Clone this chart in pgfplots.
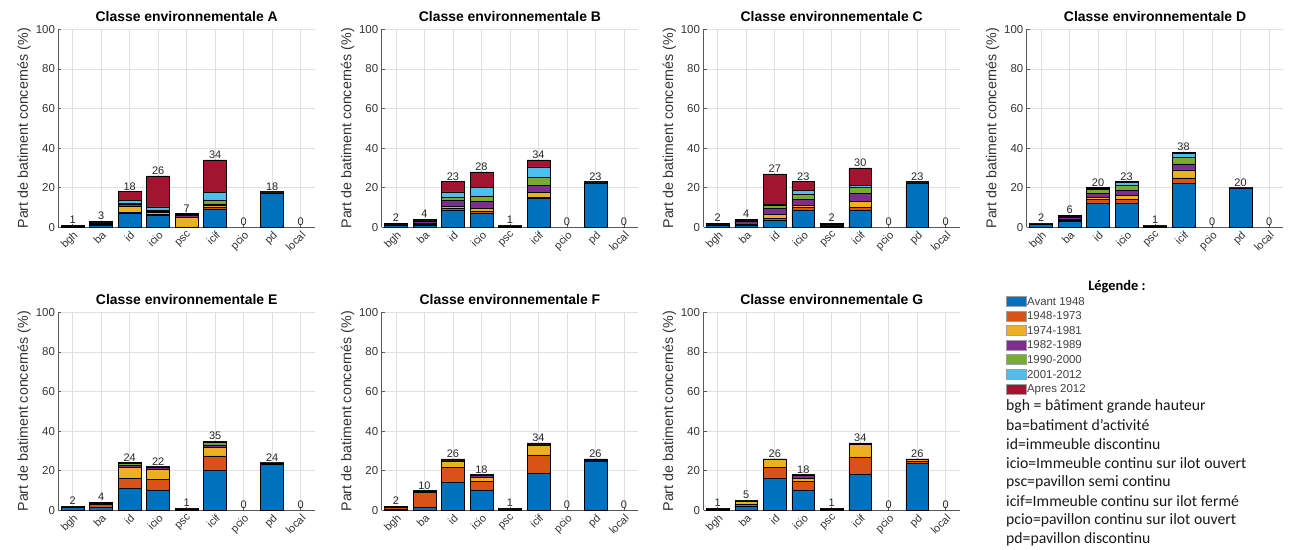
\documentclass[border=0pt]{standalone}
\usepackage{fontspec}
\setmainfont{Liberation Sans}
\newfontfamily\calib{Carlito}
\usepackage{pgfplots}
\usepackage{pgfplotstable}
\pgfplotsset{compat=1.18}
\definecolor{c1}{rgb}{0,0.447,0.741}
\definecolor{c2}{rgb}{0.85,0.325,0.098}
\definecolor{c3}{rgb}{0.929,0.694,0.125}
\definecolor{c4}{rgb}{0.494,0.184,0.556}
\definecolor{c5}{rgb}{0.466,0.674,0.188}
\definecolor{c6}{rgb}{0.301,0.745,0.933}
\definecolor{c7}{rgb}{0.635,0.078,0.184}

\pgfplotstableread{
x b1 b2 b3 b4 b5 b6 b7 tot
1 0.4 0.1 0.1 0.1 0.1 0.1 0.1 1
2 1.0 0.3 0.3 0.3 0.3 0.2 0.6 3
3 7 0.7 3 0.7 0.7 1.5 4.4 18
4 6 0.7 0.7 0.7 0.7 1.5 15.7 26
5 0.1 0.1 4.8 1.2 0.3 0.2 0.3 7
6 9.3 1 0.7 0.8 2 4 16.2 34
7 0 0 0 0 0 0 0 0
8 17 0.2 0.2 0.2 0.2 0.1 0.1 18
9 0 0 0 0 0 0 0 0
}\dataA
\pgfplotstableread{
x b1 b2 b3 b4 b5 b6 b7 tot
1 1 0.2 0.2 0.2 0.2 0.1 0.1 2
2 1 0.4 0.4 1 0.4 0.3 0.5 4
3 8.4 1 1 3 2 2.5 5.1 23
4 7.3 1 1.2 3.5 2.5 4.5 8 28
5 0.5 0.1 0.1 0.1 0.1 0.05 0.05 1
6 14.5 0.7 2.3 3.8 4 5.2 3.5 34
7 0 0 0 0 0 0 0 0
8 22 0.2 0.2 0.2 0.2 0.1 0.1 23
9 0 0 0 0 0 0 0 0
}\dataB
\pgfplotstableread{
x b1 b2 b3 b4 b5 b6 b7 tot
1 1 0.2 0.2 0.2 0.2 0.1 0.1 2
2 1 0.3 0.3 1.3 0.3 0.3 0.5 4
3 3.5 1 2 3 1.5 0.5 15.5 27
4 8.5 1.5 1 3 2.5 2 4.5 23
5 0.3 0.2 0.2 0.2 0.2 0.2 0.7 2
6 8.5 1.5 3 4 3 1 9 30
7 0 0 0 0 0 0 0 0
8 22 0.2 0.2 0.2 0.2 0.1 0.1 23
9 0 0 0 0 0 0 0 0
}\dataC
\pgfplotstableread{
x b1 b2 b3 b4 b5 b6 b7 tot
1 1.3 0.2 0.2 0.1 0.1 0.05 0.05 2
2 3 0.4 0.4 1.5 0.4 0.3 0 6
3 12 2 1 2 2 0.5 0.5 20
4 12 2 2 2.5 2.5 1.5 0.5 23
5 0.5 0.1 0.1 0.1 0.1 0.05 0.05 1
6 22 3 4 3 3.5 2 0.5 38
7 0 0 0 0 0 0 0 0
8 19.5 0.1 0.1 0.1 0.1 0.05 0.05 20
9 0 0 0 0 0 0 0 0
}\dataD
\pgfplotstableread{
x b1 b2 b3 b4 b5 b6 b7 tot
1 1.5 0.2 0.1 0.1 0.05 0.03 0.02 2
2 1.5 1.5 0.3 0.3 0.2 0.1 0.1 4
3 11 5 5.5 1.2 0.8 0.3 0.2 24
4 10 5.5 5 1 0.3 0.1 0.1 22
5 0.5 0.2 0.1 0.1 0.05 0.03 0.02 1
6 20 7.5 4.3 1.2 1.5 0.3 0.2 35
7 0 0 0 0 0 0 0 0
8 23 0.3 0.3 0.2 0.1 0.05 0.05 24
9 0 0 0 0 0 0 0 0
}\dataE
\pgfplotstableread{
x b1 b2 b3 b4 b5 b6 b7 tot
1 0.3 1 0.2 0.2 0.1 0.1 0.1 2
2 1.5 7.5 0.4 0.3 0.1 0.1 0.1 10
3 14 7.5 3.5 0.5 0.3 0.1 0.1 26
4 10 4.5 2 1 0.3 0.1 0.1 18
5 0.2 0.5 0.1 0.1 0.05 0.03 0.02 1
6 18.5 9.5 5 0.5 0.3 0.1 0.1 34
7 0 0 0 0 0 0 0 0
8 25 0.3 0.3 0.2 0.1 0.05 0.05 26
9 0 0 0 0 0 0 0 0
}\dataF
\pgfplotstableread{
x b1 b2 b3 b4 b5 b6 b7 tot
1 0.6 0.1 0.1 0.1 0.05 0.03 0.02 1
2 2 1 1.3 0.4 0.1 0.1 0.1 5
3 16 5.5 4.3 0.1 0.05 0.03 0.02 26
4 10 4.5 1.5 1.5 0.3 0.1 0.1 18
5 0.6 0.1 0.1 0.1 0.05 0.03 0.02 1
6 18 9 6.3 0.4 0.1 0.1 0.1 34
7 0 0 0 0 0 0 0 0
8 23.5 1.5 0.7 0.1 0.1 0.05 0.05 26
9 0 0 0 0 0 0 0 0
}\dataG

\pgfplotsset{
  sw/.style={legend image code/.code={\draw[##1,draw=gray!75,line width=0.5bp] (0bp,-4bp) rectangle (20bp,6bp);}},
  s1/.style={fill=c1,draw=black,line width=0.6bp,sw},
  s2/.style={fill=c2,draw=black,line width=0.6bp,sw},
  s3/.style={fill=c3,draw=black,line width=0.6bp,sw},
  s4/.style={fill=c4,draw=black,line width=0.6bp,sw},
  s5/.style={fill=c5,draw=black,line width=0.6bp,sw},
  s6/.style={fill=c6,draw=black,line width=0.6bp,sw},
  s7/.style={fill=c7,draw=black,line width=0.6bp,sw},
  geom/.style={scale only axis, width=256.5bp, height=198bp, anchor=south west,
    xmin=0.5, xmax=9.5, ymin=0, ymax=100},
  panel/.style={
    geom,
    ybar stacked, bar width=0.8,
    xtick={1,...,9}, xticklabels={bgh,ba,id,icio,psc,icif,pcio,pd,local},
    ytick={0,20,...,100},
    axis x line*=bottom, axis y line*=left,
    x axis line style={-, draw=black!65, line width=0.8bp},
    y axis line style={-, draw=black!65, line width=0.8bp},
    tick style={draw=black!65, line width=0.6bp},
    tick align=inside, major tick length=3bp,
    grid=major, major grid style={draw=black!12, line width=0.6bp},
    xticklabel style={rotate=45, anchor=north east, font=\fontsize{11}{13}\selectfont, text=black!80, inner sep=2bp},
    yticklabel style={font=\fontsize{11.5}{13}\selectfont, text=black!80},
    /pgf/number format/assume math mode=true,
    ylabel={Part de batiment concernés (\%)},
    ylabel style={font=\fontsize{14.3}{16}\selectfont, text=black!80, yshift=-2bp},
    title style={font=\bfseries\fontsize{14}{16}\selectfont, yshift=-2bp},
  },
  labaxis/.style={geom, hide axis, clip=false},
}
\newcommand\bars[1]{%
  \addplot[s1] table[x=x,y=b1]{#1};
  \addplot[s2] table[x=x,y=b2]{#1};
  \addplot[s3] table[x=x,y=b3]{#1};
  \addplot[s4] table[x=x,y=b4]{#1};
  \addplot[s5] table[x=x,y=b5]{#1};
  \addplot[s6] table[x=x,y=b6]{#1};
  \addplot[s7] table[x=x,y=b7]{#1};
}
\newcommand\labs[1]{%
  \addplot[only marks, mark=*, mark size=0.01bp, mark options={draw=none,fill=none},
    nodes near coords, point meta=explicit,
    nodes near coords style={font=\fontsize{11}{12}\selectfont, text=black!85, anchor=south, inner sep=1.2bp},
    /pgf/number format/assume math mode=true]
    table[x=x,y=tot,meta=tot]{#1};
}

\begin{document}
\begin{tikzpicture}
\path[use as bounding box] (0,0) rectangle (1293bp,-550bp);
\begin{axis}[panel, at={(58.4bp,-227.3bp)}, title={Classe environnementale A}]
\bars{\dataA}
\end{axis}
\begin{axis}[labaxis, at={(58.4bp,-227.3bp)}]
\labs{\dataA}
\end{axis}
\begin{axis}[panel, at={(381.7bp,-227.3bp)}, title={Classe environnementale B}]
\bars{\dataB}
\end{axis}
\begin{axis}[labaxis, at={(381.7bp,-227.3bp)}]
\labs{\dataB}
\end{axis}
\begin{axis}[panel, at={(703.5bp,-227.3bp)}, title={Classe environnementale C}]
\bars{\dataC}
\end{axis}
\begin{axis}[labaxis, at={(703.5bp,-227.3bp)}]
\labs{\dataC}
\end{axis}
\begin{axis}[panel, at={(1026.8bp,-227.3bp)}, title={Classe environnementale D}]
\bars{\dataD}
\end{axis}
\begin{axis}[labaxis, at={(1026.8bp,-227.3bp)}]
\labs{\dataD}
\end{axis}
\begin{axis}[panel, at={(58.4bp,-510.3bp)}, title={Classe environnementale E}]
\bars{\dataE}
\end{axis}
\begin{axis}[labaxis, at={(58.4bp,-510.3bp)}]
\labs{\dataE}
\end{axis}
\begin{axis}[panel, at={(381.7bp,-510.3bp)}, title={Classe environnementale F}]
\bars{\dataF}
\end{axis}
\begin{axis}[labaxis, at={(381.7bp,-510.3bp)}]
\labs{\dataF}
\end{axis}
\begin{axis}[panel, at={(703.5bp,-510.3bp)}, title={Classe environnementale G},
  legend style={at={(1.1793,1.082)}, anchor=north west, draw=none, fill=none,
    font=\fontsize{11.5}{13}\selectfont, text=black!75,
    nodes={inner sep=0.6bp, text height=7.5bp, text depth=2bp},
    row sep=3bp, inner sep=0pt, outer sep=0pt},
  legend cell align=left]
\bars{\dataG}
\legend{Avant 1948,1948-1973,1974-1981,1982-1989,1990-2000,2001-2012,Apres 2012}
\end{axis}
\begin{axis}[labaxis, at={(703.5bp,-510.3bp)}]
\labs{\dataG}
\end{axis}
\node[font=\calib\bfseries\fontsize{14.5}{16}\selectfont] at (1117bp,-287bp) {Légende :};
\begin{scope}[every node/.style={anchor=west, font=\calib\fontsize{15.8}{17}\selectfont, text=black!90, inner sep=0pt}]
\node at (1006bp,-406bp) {bgh = bâtiment grande hauteur};
\node at (1006bp,-425bp) {ba=batiment d’activité};
\node at (1006bp,-444.3bp) {id=immeuble discontinu};
\node at (1006bp,-462.7bp) {icio=Immeuble continu sur ilot ouvert};
\node at (1006bp,-482.3bp) {psc=pavillon semi continu};
\node at (1006bp,-501.3bp) {icif=Immeuble continu sur ilot fermé};
\node at (1006bp,-520bp) {pcio=pavillon continu sur ilot ouvert};
\node at (1006bp,-539bp) {pd=pavillon discontinu};
\end{scope}
\end{tikzpicture}
\end{document}
